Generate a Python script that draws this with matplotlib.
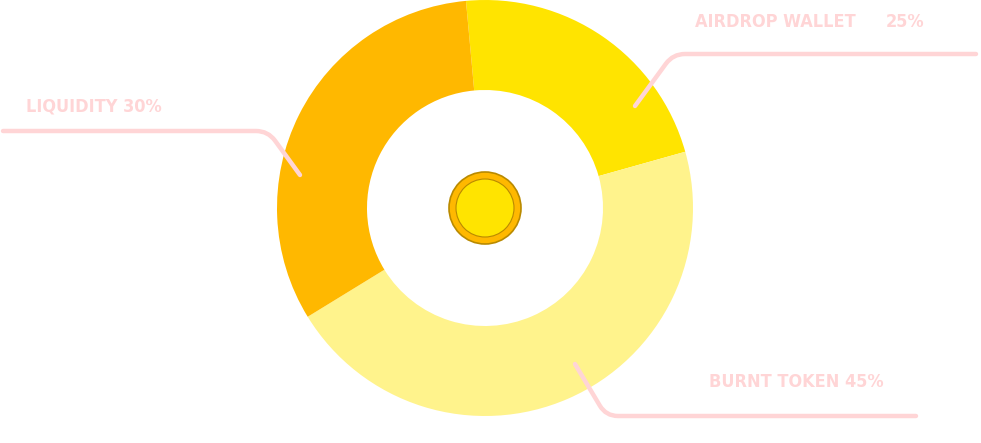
import matplotlib
matplotlib.use("Agg")
import matplotlib.pyplot as plt
from matplotlib.path import Path
from matplotlib.patches import PathPatch, Circle

# Token split as drawn (slice sizes) and the label text
categories = ["AIRDROP WALLET", "BURNT TOKEN", "LIQUIDITY"]
label_pcts = ["25%", "45%", "30%"]
shares = [22.1, 45.6, 32.3]
colors = ["#FFE400", "#FFF38C", "#FFB800"]

pink = "#FFD5D6"
W, H = 981, 443

fig = plt.figure(figsize=(W / 100, H / 100), dpi=100)
ax = fig.add_axes([0, 0, 1, 1])

# Donut, centre given in pixel space (y flipped so that origin is bottom-left)
cx, cy = 485, H - 208
ax.pie(shares, colors=colors, startangle=95.25, counterclock=False,
       center=(cx, cy), radius=208,
       wedgeprops=dict(width=90, linewidth=0))

# Little coin in the middle
ax.add_patch(Circle((cx, cy), 36, facecolor="#FFB800", edgecolor="#B98A00", linewidth=1.2))
ax.add_patch(Circle((cx, cy), 29, facecolor="#FFE400", edgecolor="#B98A00", linewidth=0.8))


def leader(p0, corner, p1, r=12):
    # polyline p0 -> corner -> p1 with a rounded corner
    def towards(a, b, d):
        dx, dy = b[0] - a[0], b[1] - a[1]
        n = (dx * dx + dy * dy) ** 0.5
        return (a[0] + dx / n * d, a[1] + dy / n * d)
    c0 = towards(corner, p0, r)
    c1 = towards(corner, p1, r)
    verts = [p0, c0, corner, c1, p1]
    codes = [Path.MOVETO, Path.LINETO, Path.CURVE3, Path.CURVE3, Path.LINETO]
    flip = [(x, H - y) for x, y in verts]
    ax.add_patch(PathPatch(Path(flip, codes), facecolor="none", edgecolor=pink,
                           linewidth=3.2, capstyle="round", joinstyle="round"))


leader((635, 106), (673, 54), (976, 54))
leader((3, 131), (268, 131), (300, 175))
leader((575, 364), (606, 416), (916, 416))

txt = dict(color=pink, fontsize=13, fontweight="bold", fontstretch="condensed",
           va="center", family="DejaVu Sans")
ax.text(695, H - 22, categories[0], ha="left", **txt)
ax.text(924, H - 22, label_pcts[0], ha="right", **txt)
ax.text(26, H - 106, f"{categories[2]} {label_pcts[2]}", ha="left", **txt)
ax.text(884, H - 382, f"{categories[1]} {label_pcts[1]}", ha="right", **txt)

ax.set_xlim(0, W)
ax.set_ylim(0, H)
ax.set_aspect("auto")
ax.axis("off")

fig.savefig("out.png", dpi=100)
